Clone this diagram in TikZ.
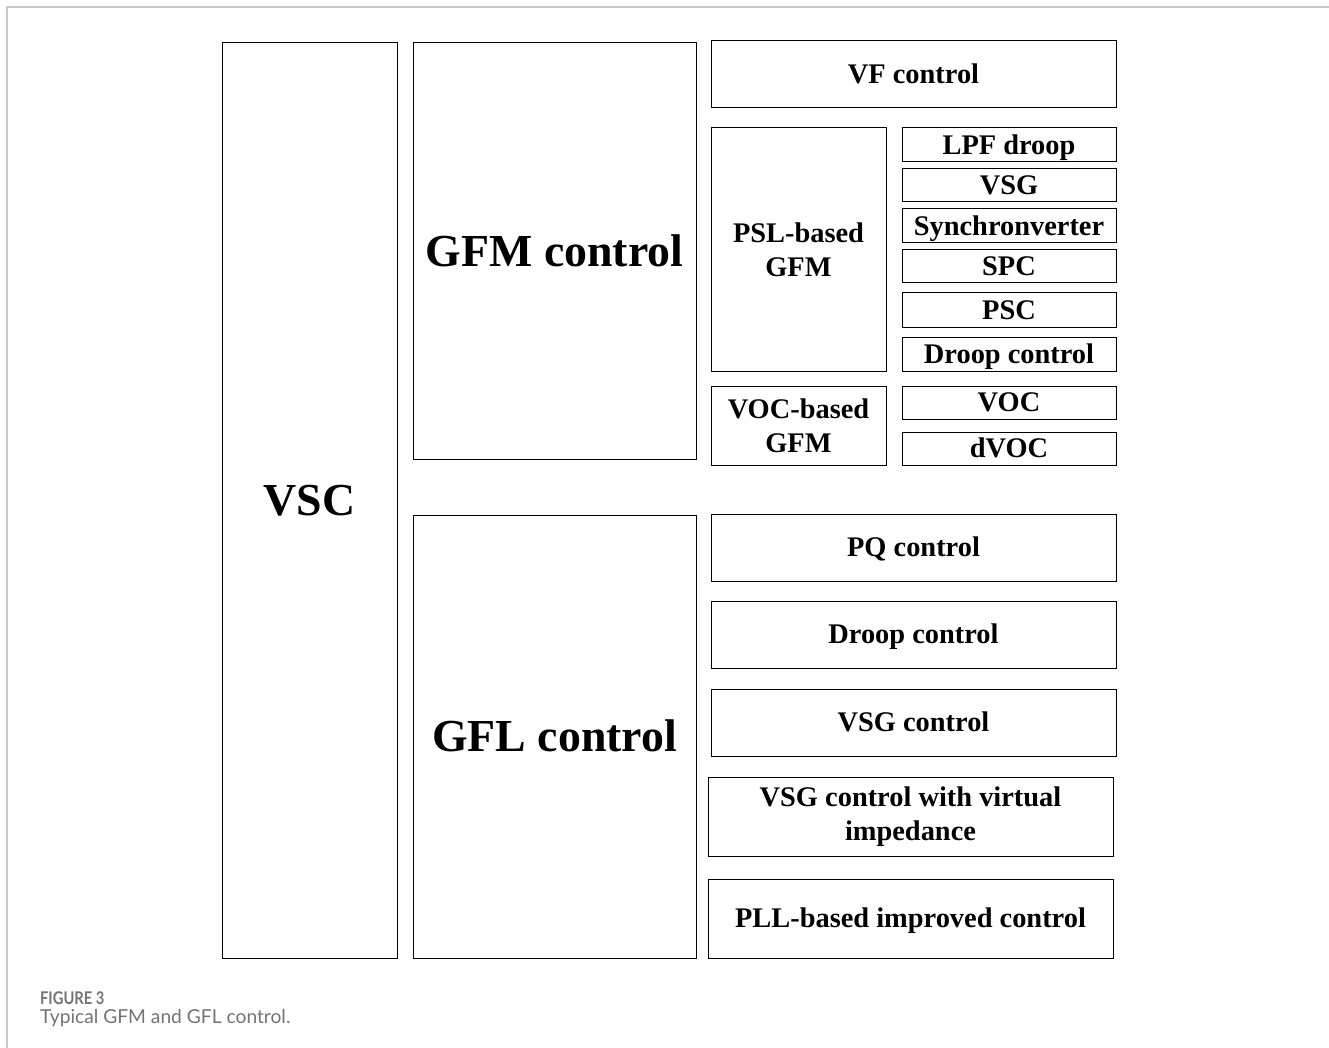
\documentclass[tikz,border=0pt]{standalone}
\usepackage{fontspec}
\setmainfont{Liberation Serif}
\newfontfamily\capfont{Lato}
\definecolor{framegray}{RGB}{200,200,200}
\definecolor{capgray}{RGB}{115,115,115}
\tikzset{
  box/.style={draw=black, line width=1pt, inner sep=0pt, align=center, font=\fontsize{28.4}{34}\selectfont\bfseries},
  onebox/.style={box, text height=18.8pt, text depth=0pt},
  bigbox/.style={box, font=\fontsize{45.8}{50}\selectfont\bfseries, text height=30.5pt, text depth=0pt},
}
\begin{document}
\begin{tikzpicture}[x=1pt,y=-1pt]
\useasboundingbox (0,0) rectangle (1329,1048);
\draw[framegray, line width=2pt] (7,1048) -- (7,7) -- (1329,7);
% left columns
\node[bigbox, minimum width=175pt, minimum height=915pt] (vsc) at (309.5,500.5) {VSC};
\node[bigbox, minimum width=283pt, minimum height=416pt] (gfm) at (554.5,251) {GFM control};
\node[bigbox, minimum width=283pt, minimum height=443pt] (gfl) at (554.5,736.5) {GFL control};
% GFM side
\node[onebox, minimum width=405pt, minimum height=67pt] (vf) at (913.5,74.5) {VF control};
\node[box, minimum width=175pt, minimum height=243pt] (psl) at (798.5,249.5) {PSL-based\\GFM};
\node[box, minimum width=175pt, minimum height=79pt] (vocb) at (798.5,425.5) {VOC-based\\GFM};
\node[onebox, minimum width=214pt, minimum height=34pt] (lpf) at (1009,145) {LPF droop};
\node[onebox, minimum width=214pt, minimum height=33pt] (vsg) at (1009,185.5) {VSG};
\node[onebox, minimum width=214pt, minimum height=34pt] (sync) at (1009,226) {Synchronverter};
\node[onebox, minimum width=214pt, minimum height=33pt] (spc) at (1009,266.5) {SPC};
\node[onebox, minimum width=214pt, minimum height=34pt] (psc) at (1009,310) {PSC};
\node[onebox, minimum width=214pt, minimum height=34pt] (droopa) at (1009,354) {Droop control};
\node[onebox, minimum width=214pt, minimum height=33pt] (voc) at (1009,402.5) {VOC};
\node[onebox, minimum width=214pt, minimum height=33pt] (dvoc) at (1009,448.5) {dVOC};
% GFL side
\node[onebox, minimum width=405pt, minimum height=67pt] (pq) at (913.5,547.5) {PQ control};
\node[onebox, minimum width=405pt, minimum height=67pt] (droopb) at (913.5,634.5) {Droop control};
\node[onebox, minimum width=405pt, minimum height=67pt] (vsgc) at (913.5,722.5) {VSG control};
\node[box, minimum width=405pt, minimum height=79pt] (vsgvi) at (910.5,816.5) {VSG control with virtual\\impedance};
\node[onebox, minimum width=405pt, minimum height=79pt] (pll) at (910.5,918.5) {PLL-based improved control};
% caption
\node[anchor=base west, inner sep=0pt, text=capgray, xscale=0.84, transform shape, font=\capfont\fontsize{17.5}{19}\selectfont\bfseries] (fig) at (40,1004) {FIGURE 3};
\node[anchor=base west, inner sep=0pt, text=capgray, font=\capfont\fontsize{19.2}{22}\selectfont] (cap) at (40,1023) {Typical GFM and GFL control.};
\end{tikzpicture}
\end{document}
